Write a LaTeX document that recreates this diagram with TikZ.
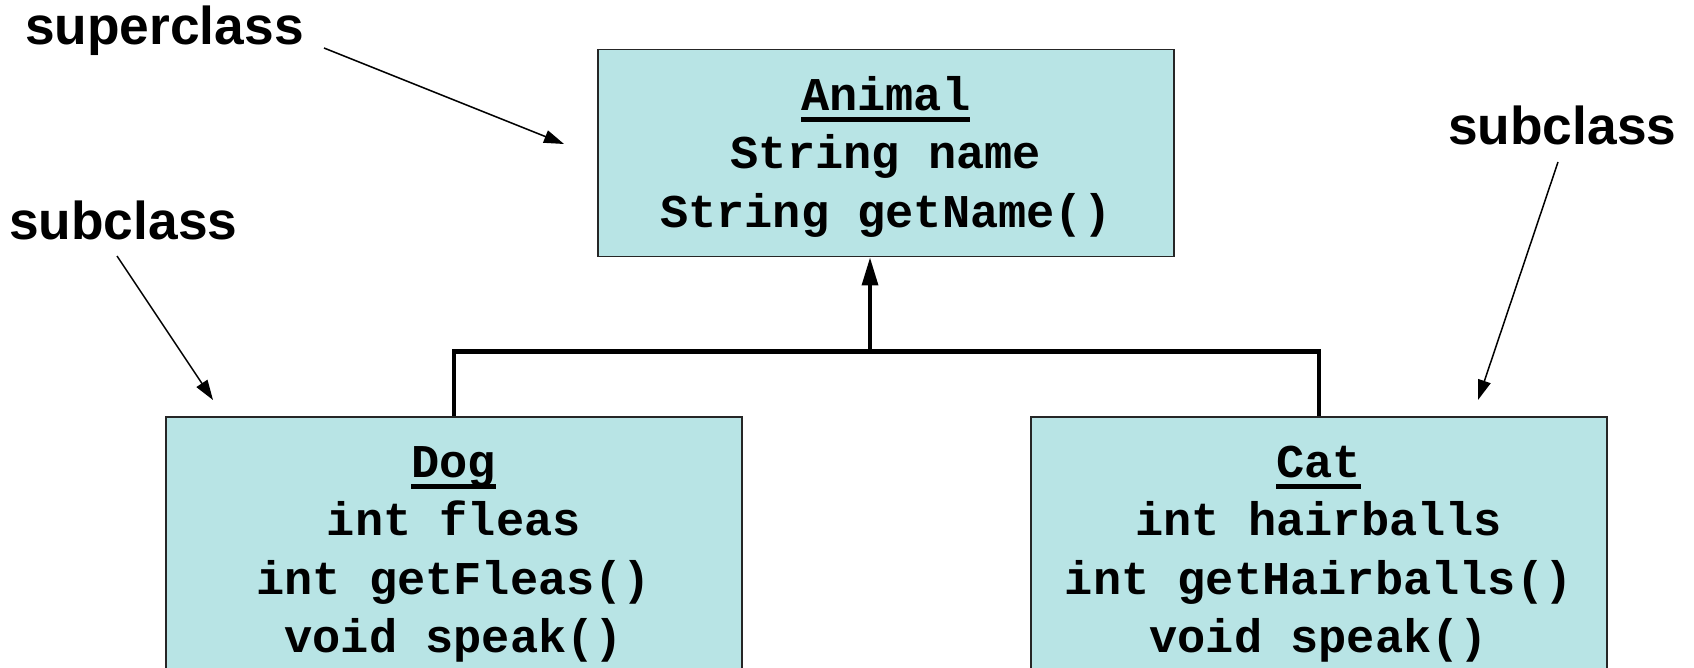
\documentclass[tikz,border=0pt]{standalone}
\usepackage{fontspec}
\setmainfont{Liberation Sans}
\newfontfamily\codefont{Liberation Mono}
\usetikzlibrary{arrows.meta,calc}
\definecolor{boxfill}{RGB}{184,228,229}
\newcommand\ulword[1]{\setbox0=\hbox{#1}\rlap{\rule[-12pt]{\wd0}{5.5pt}}\box0}
\begin{document}
\begin{tikzpicture}[x=1pt,y=-1pt,
  classbox/.style={draw=black!85, line width=1.5pt, fill=boxfill, rectangle, inner sep=0pt, anchor=north west, minimum width=576pt},
  classtext/.style={font=\codefont\bfseries\fontsize{47}{58.5}\selectfont, align=center, inner sep=0pt, anchor=north},
  lbl/.style={font=\bfseries\fontsize{53.3}{60}\selectfont, inner sep=0pt, anchor=base west},
  ptr/.style={line width=1.5pt, -{Triangle[length=20pt,width=13pt]}},
  tree/.style={line width=3.5pt},
  treebar/.style={line width=5pt},
]
\useasboundingbox (0,0) rectangle (1694,668);
\clip (0,0) rectangle (1694,668);

% class boxes
\node[classbox, minimum height=207pt] (animal) at (597,49) {};
\node[classbox, minimum height=280pt] (dog) at (165,416) {};
\node[classbox, minimum height=280pt] (cat) at (1030,416) {};

\node[classtext] (animaltxt) at ([yshift=-20pt]animal.north)
  {\strut\ulword{Animal}\\\strut String name\\\strut String getName()};
\node[classtext] (dogtxt) at ([yshift=-20pt]dog.north)
  {\strut\ulword{Dog}\\\strut int fleas\\\strut int getFleas()\\\strut void speak()};
\node[classtext] (cattxt) at ([yshift=-20pt]cat.north)
  {\strut\ulword{Cat}\\\strut int hairballs\\\strut int getHairballs()\\\strut void speak()};

% inheritance connector
\coordinate (junc) at (870,351);
\coordinate (barL) at (dog.north |- junc);
\coordinate (barR) at (cat.north |- junc);
\draw[tree] (dog.north) -- (barL);
\draw[tree] (cat.north) -- (barR);
\draw[treebar] ([xshift=-1.75pt]barL) -- ([xshift=1.75pt]barR);
\draw[tree, -{Triangle[length=28pt,width=16pt]}] (junc) -- (junc |- animal.south);

% labels
\node[lbl] (suplbl) at (25,45) {superclass};
\node[lbl] (sublblL) at (9,240) {subclass};
\node[lbl] (sublblR) at (1448,145) {subclass};

\coordinate (supTail) at (324,48);
\coordinate (supHead) at (564,144);
\coordinate (subLTail) at (117,256);
\coordinate (subLHead) at (213,400);
\coordinate (subRTail) at (1558,162);
\coordinate (subRHead) at (1478,400);
\draw[ptr] (supTail) -- (supHead);
\draw[ptr] (subLTail) -- (subLHead);
\draw[ptr] (subRTail) -- (subRHead);
\end{tikzpicture}
\end{document}
